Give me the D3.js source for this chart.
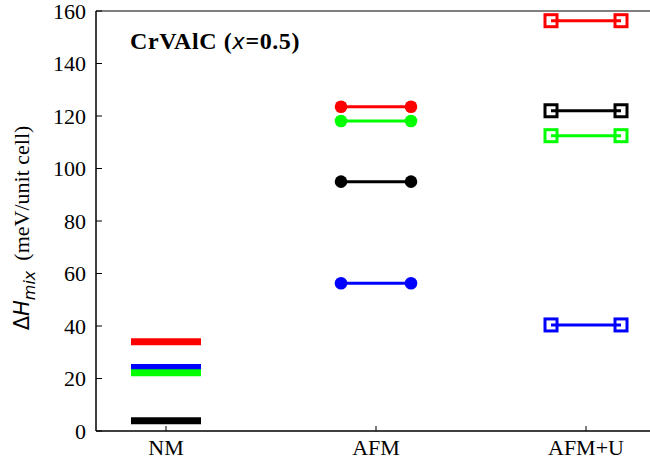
<!DOCTYPE html>
<html>
<head>
<meta charset="utf-8">
<script src="https://cdn.jsdelivr.net/npm/d3@7"></script>
<style>
  body { margin: 0; background: #fff; }
  text { font-family: "Liberation Serif", "Times New Roman", serif; }
</style>
</head>
<body>
<script>
// categories on the x axis
var categories = ["NM", "AFM", "AFM+U"];
var yTicks = [0, 20, 40, 60, 80, 100, 120, 140, 160];

// mixing enthalpy per configuration (meV/unit cell)
var redValues = [34.0, 123.5, 156.3];
var blueValues = [24.2, 56.3, 40.4];
var greenValues = [22.2, 118.1, 112.5];
var blackValues = [3.9, 95.0, 122.0];

var series = [
  {color: "#ff0000", values: redValues},
  {color: "#0000ff", values: blueValues},
  {color: "#00ff00", values: greenValues},
  {color: "#000000", values: blackValues}
];

var w = 650;
var h = 463;
var plotLeft = 96, plotTop = 11, plotBottom = 431;
var halfSeg = 35;

var svg = d3.select("body")
  .append("svg")
  .attr("width", w)
  .attr("height", h);

var x = d3.scaleLinear()
  .domain([-1 / 3, 8 / 3])
  .range([plotLeft, plotLeft + 630]);

var y = d3.scaleLinear()
  .domain([0, 160])
  .range([plotBottom, plotTop]);

// frame: left, bottom and top lines
var axisColor = "#000";
svg.append("line")
  .attr("x1", plotLeft).attr("x2", plotLeft)
  .attr("y1", plotTop).attr("y2", plotBottom)
  .attr("stroke", axisColor).attr("stroke-width", 1.5);
svg.append("line")
  .attr("x1", plotLeft).attr("x2", w)
  .attr("y1", plotBottom).attr("y2", plotBottom)
  .attr("stroke", axisColor).attr("stroke-width", 1.5);
svg.append("line")
  .attr("x1", plotLeft).attr("x2", w)
  .attr("y1", plotTop).attr("y2", plotTop)
  .attr("stroke", axisColor).attr("stroke-width", 1);

// y ticks (inward)
svg.selectAll(".ytick")
  .data(yTicks)
  .enter()
  .append("line")
  .attr("x1", plotLeft).attr("x2", plotLeft + 6)
  .attr("y1", function(d) { return y(d); })
  .attr("y2", function(d) { return y(d); })
  .attr("stroke", axisColor);

svg.selectAll(".ylab")
  .data(yTicks)
  .enter()
  .append("text")
  .attr("x", 86)
  .attr("y", function(d) { return y(d) + 7.5; })
  .attr("text-anchor", "end")
  .style("font-size", "22px")
  .text(function(d) { return d; });

// x ticks (inward)
svg.selectAll(".xtick")
  .data(categories)
  .enter()
  .append("line")
  .attr("x1", function(d, i) { return x(i); })
  .attr("x2", function(d, i) { return x(i); })
  .attr("y1", plotBottom).attr("y2", plotBottom - 5)
  .attr("stroke", axisColor);

svg.selectAll(".xlab")
  .data(categories)
  .enter()
  .append("text")
  .attr("x", function(d, i) { return x(i); })
  .attr("y", 455)
  .attr("text-anchor", "middle")
  .style("font-size", "22px")
  .text(function(d) { return d; });

// NM: thick bars, no markers
series.forEach(function(s) {
  svg.append("line")
    .attr("x1", x(0) - halfSeg).attr("x2", x(0) + halfSeg)
    .attr("y1", y(s.values[0])).attr("y2", y(s.values[0]))
    .attr("stroke", s.color).attr("stroke-width", 7);
});

// AFM: filled circles joined by a line
series.forEach(function(s) {
  var yy = y(s.values[1]);
  svg.append("line")
    .attr("x1", x(1) - halfSeg).attr("x2", x(1) + halfSeg)
    .attr("y1", yy).attr("y2", yy)
    .attr("stroke", s.color).attr("stroke-width", 3);
  [-halfSeg, halfSeg].forEach(function(dx) {
    svg.append("circle")
      .attr("cx", x(1) + dx).attr("cy", yy)
      .attr("r", 6.3)
      .attr("fill", s.color);
  });
});

// AFM+U: open squares, line drawn on top from centre to centre
series.forEach(function(s) {
  var yy = y(s.values[2]);
  [-halfSeg, halfSeg].forEach(function(dx) {
    svg.append("rect")
      .attr("x", x(2) + dx - 6).attr("y", yy - 6)
      .attr("width", 12).attr("height", 12)
      .attr("fill", "#fff")
      .attr("stroke", s.color).attr("stroke-width", 3);
  });
  svg.append("line")
    .attr("x1", x(2) - halfSeg).attr("x2", x(2) + halfSeg)
    .attr("y1", yy).attr("y2", yy)
    .attr("stroke", s.color).attr("stroke-width", 3);
});

// title inside the plot
var title = svg.append("text")
  .attr("x", 130)
  .attr("y", 49)
  .style("font-size", "24px")
  .style("letter-spacing", "0.6px")
  .style("font-weight", "bold");
title.append("tspan").text("CrVAlC (");
title.append("tspan")
  .style("font-family", "'DejaVu Sans', sans-serif")
  .style("font-style", "italic")
  .style("font-weight", "normal")
  .style("font-size", "21px")
  .text("x");
title.append("tspan").text("=0.5)");

// y axis label
var ylab = svg.append("text")
  .attr("transform", "translate(29,228) rotate(-90)")
  .attr("text-anchor", "middle")
  .style("font-size", "22px");
ylab.append("tspan")
  .style("font-family", "'DejaVu Sans', sans-serif")
  .style("font-size", "21px")
  .text("\u0394");
ylab.append("tspan")
  .style("font-family", "'DejaVu Sans', sans-serif")
  .style("font-style", "italic")
  .style("font-size", "21px")
  .text("H");
ylab.append("tspan")
  .attr("dy", 6)
  .style("font-family", "'DejaVu Sans', sans-serif")
  .style("font-style", "italic")
  .style("font-size", "16px")
  .text("mix");
ylab.append("tspan")
  .attr("dy", -6)
  .attr("dx", 10)
  .text("(meV/unit cell)");
</script>
</body>
</html>
